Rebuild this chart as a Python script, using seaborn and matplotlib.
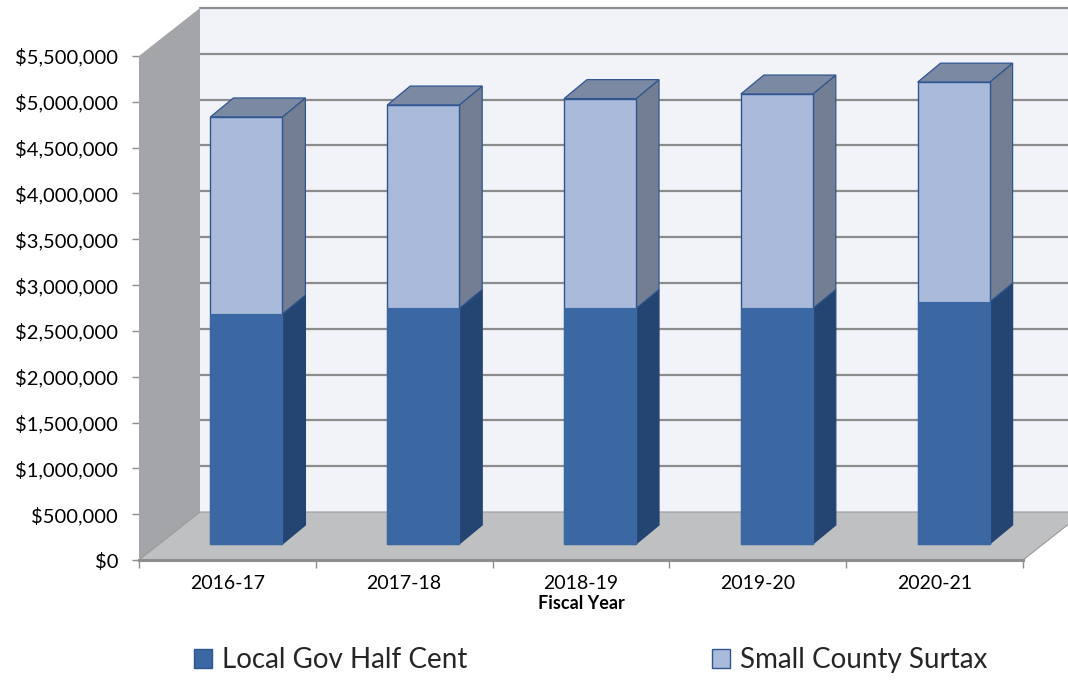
import matplotlib
matplotlib.use("Agg")
import matplotlib.pyplot as plt
import numpy as np
import pandas as pd
import seaborn as sns
from matplotlib.patches import Polygon, Patch
from matplotlib.transforms import Affine2D
from matplotlib.ticker import FuncFormatter, MultipleLocator, FixedLocator

# Revenue by fiscal year (dollars)
years = ["2016-17", "2017-18", "2018-19", "2019-20", "2020-21"]
half_cent = [2510000, 2570000, 2570000, 2570000, 2640000]
surtax = [2150000, 2220000, 2290000, 2340000, 2400000]
series_names = ["Local Gov Half Cent", "Small County Surtax"]

total = [h + s for h, s in zip(half_cent, surtax)]
df = pd.DataFrame({"year": years, "half": half_cent, "total": total})

# colours
DARK_FRONT = "#3b67a3"
DARK_SIDE = "#244572"
LIGHT_FRONT = "#aabadb"
LIGHT_SIDE = "#737e93"
TOP_FACE = "#7b89a3"
EDGE = "#2f5690"
WALL_BACK = "#f1f3f8"
WALL_SIDE = "#a3a5a8"
FLOOR = "#bfc0c2"
GRID = "#8c8c8c"

sns.set_theme(style="white")
plt.rcParams["font.family"] = ["Lato", "DejaVu Sans"]

W, H = 1068, 689
AX_L, AX_R, AX_B, AX_T = 139, 1023, 560, 56
YMAX = 5_500_000

fig = plt.figure(figsize=(W / 100, H / 100), dpi=100)
fig.patch.set_facecolor("white")
ax = fig.add_axes([AX_L / W, (H - AX_B) / H, (AX_R - AX_L) / W, (AX_B - AX_T) / H])
ax.set_facecolor("none")

n = len(years)
sx = (AX_R - AX_L) / n
sy = (AX_B - AX_T) / YMAX


def depth(px_x, px_y):
    """Convert a pixel offset into data units."""
    return px_x / sx, px_y / sy


wall_dx, wall_dy = depth(61, 48)
shift_x, shift_y = depth(19, 16)
bar_dx, bar_dy = depth(23, 19)
bar_w = 72 / sx

x0, x1 = -0.5, n - 0.5

# back wall, side wall and floor
ax.add_patch(Polygon([(x0 + wall_dx, wall_dy), (x1 + wall_dx, wall_dy),
                      (x1 + wall_dx, YMAX + wall_dy), (x0 + wall_dx, YMAX + wall_dy)],
                     closed=True, facecolor=WALL_BACK, edgecolor="none",
                     zorder=0, clip_on=False))
for k in range(1, 12):
    ax.plot([x0 + wall_dx, x1 + wall_dx], [k * 500_000 + wall_dy] * 2,
            color=GRID, lw=1.6, zorder=0.5, clip_on=False)
ax.add_patch(Polygon([(x0, 0), (x0, YMAX), (x0 + wall_dx, YMAX + wall_dy), (x0 + wall_dx, wall_dy)],
                     closed=True, facecolor=WALL_SIDE, edgecolor="none",
                     zorder=1, clip_on=False))
ax.add_patch(Polygon([(x0, 0), (x1, 0), (x1 + wall_dx, wall_dy), (x0 + wall_dx, wall_dy)],
                     closed=True, facecolor=FLOOR, edgecolor="#9a9a9a", lw=0.8,
                     zorder=1, clip_on=False))

# front faces of the stacked columns
start = len(ax.patches)
sns.barplot(data=df, x="year", y="total", color=LIGHT_FRONT, saturation=1,
            width=bar_w, errorbar=None, edgecolor=EDGE, linewidth=1.0, ax=ax, zorder=5)
light_bars = ax.patches[start:]
start = len(ax.patches)
sns.barplot(data=df, x="year", y="half", color=DARK_FRONT, saturation=1,
            width=bar_w, errorbar=None, edgecolor=DARK_FRONT, linewidth=0.8, ax=ax, zorder=6)
dark_bars = ax.patches[start:]

shifted = Affine2D().translate(shift_x, shift_y) + ax.transData
for p in light_bars + dark_bars:
    p.set_transform(shifted)
    p.set_clip_on(False)

# side and top faces
for lb, db in zip(light_bars, dark_bars):
    left = lb.get_x()
    right = lb.get_x() + lb.get_width()
    top = lb.get_height()
    mid = db.get_height()
    faces = [
        ([(right, 0), (right, mid), (right + bar_dx, mid + bar_dy), (right + bar_dx, bar_dy)],
         DARK_SIDE, DARK_SIDE),
        ([(right, mid), (right, top), (right + bar_dx, top + bar_dy), (right + bar_dx, mid + bar_dy)],
         LIGHT_SIDE, EDGE),
        ([(left, top), (right, top), (right + bar_dx, top + bar_dy), (left + bar_dx, top + bar_dy)],
         TOP_FACE, EDGE),
    ]
    for verts, fc, ec in faces:
        ax.add_patch(Polygon(verts, closed=True, facecolor=fc, edgecolor=ec, lw=0.9,
                             transform=shifted, zorder=4, clip_on=False))

# axes, ticks and labels
ax.set_xlim(x0, x1)
ax.set_ylim(0, YMAX)
ax.grid(False)
for side in ["top", "right", "left"]:
    ax.spines[side].set_visible(False)
ax.spines["bottom"].set_color("#8e8e8e")
ax.spines["bottom"].set_linewidth(2.2)
ax.spines["bottom"].set_zorder(2)

ax.yaxis.set_major_locator(MultipleLocator(500_000))
ax.yaxis.set_major_formatter(FuncFormatter(lambda v, _: f"${v:,.0f}"))
ax.tick_params(axis="y", which="major", direction="out", length=5, width=1,
               color="#8e8e8e", labelsize=14.5, labelcolor="black", pad=10, left=True)

ax.set_xticks(range(n))
ax.set_xticklabels(years)
ax.xaxis.set_minor_locator(FixedLocator(np.arange(n + 1) - 0.5))
ax.tick_params(axis="x", which="major", length=0, labelsize=14, labelcolor="black", pad=11)
ax.tick_params(axis="x", which="minor", direction="out", length=6, width=1,
               color="#8e8e8e", bottom=True)
ax.set_xlabel("")
ax.set_ylabel("")
ax.text(0.5, -0.087, "Fiscal Year", transform=ax.transAxes, ha="center", va="center",
        fontsize=13, fontweight="bold", color="black")

handles = [Patch(facecolor=DARK_FRONT, edgecolor=EDGE, label=series_names[0]),
           Patch(facecolor=LIGHT_FRONT, edgecolor=EDGE, label=series_names[1])]
fig.legend(handles=handles, loc="center", bbox_to_anchor=(0.553, 1 - 660 / H), ncol=2,
           frameon=False, fontsize=20, handlelength=0.65, handleheight=0.65,
           handletextpad=0.35, columnspacing=8.8)

fig.savefig("out.png", dpi=100, facecolor="white")
